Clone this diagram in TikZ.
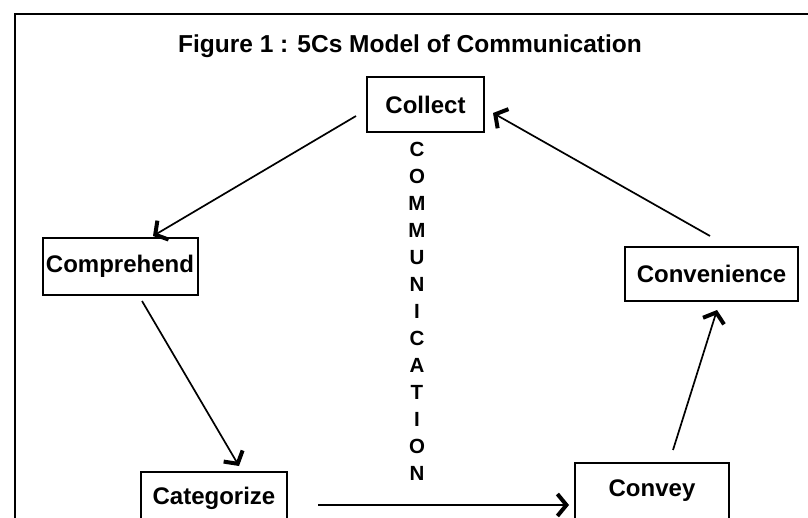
\documentclass[tikz,border=0pt]{standalone}
\usepackage{fontspec}
\setmainfont{Liberation Sans}
\usetikzlibrary{arrows.meta}
\tikzset{
  cbox/.style={draw, line width=2pt, inner sep=0pt,
    font=\bfseries\fontsize{24}{28}\selectfont},
  arr/.style={line width=1.7pt,
    -{Straight Barb[length=9pt,width=22pt,line width=4pt]}}
}
\begin{document}
\begin{tikzpicture}[x=1pt,y=1pt]
      \useasboundingbox (0,0) rectangle (808,-518);
      \draw[line width=2pt] (15,-518) -- (15,-14) -- (808,-14);
      \node[font=\bfseries\fontsize{24.5}{28}\selectfont] (title) at (410,-46) {Figure 1 : 5Cs Model of Communication};
      \node[cbox, minimum width=117pt, minimum height=55pt] (collect) at (425.5,-104.5) {Collect};
      \node[cbox, minimum width=155pt, minimum height=57pt] (comprehend) at (120,-266.5) {Comprehend};
      \node[cbox, minimum width=173pt, minimum height=54pt] (convenience) at (711.5,-274) {Convenience};
      \node[cbox, minimum width=146pt, minimum height=52pt] (categorize) at (214,-498) {Categorize};
      \node[cbox, minimum width=154pt, minimum height=56pt] (convey) at (652,-491) {Convey};
      \node[align=center, font=\bfseries\fontsize{20.5}{27}\selectfont] (word) at (417,-311)
        {C\\O\\M\\M\\U\\N\\I\\C\\A\\T\\I\\O\\N};
      \draw[arr] ([shift={(-10,-11.5)}]collect.west) -- ([shift={(33,1)}]comprehend.north);
      \draw[arr] ([shift={(22,-5)}]comprehend.south) -- ([shift={(25,5)}]categorize.north);
      \draw[arr] ([shift={(30,-7)}]categorize.east) -- ([shift={(-5,-14)}]convey.west);
      \draw[arr] ([shift={(21,12)}]convey.north) -- ([shift={(5.5,-8)}]convenience.south);
      \draw[arr] ([shift={(-1.5,10)}]convenience.north) -- ([shift={(8,-8.5)}]collect.east);
    \end{tikzpicture}
\end{document}
